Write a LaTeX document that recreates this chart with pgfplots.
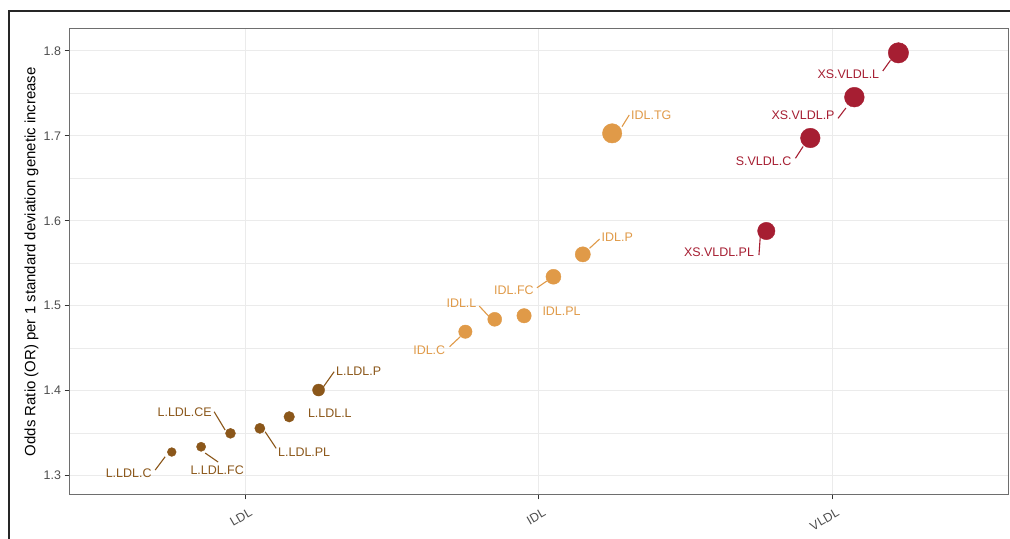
\documentclass[border=0pt]{standalone}
\usepackage{pgfplots}
\usepackage{pgfplotstable}
\pgfplotsset{compat=1.18}
\usepackage{fontspec}
\setmainfont{Liberation Sans}
\definecolor{ldl}{RGB}{139,87,26}
\definecolor{idl}{RGB}{224,154,72}
\definecolor{vldl}{RGB}{166,30,50}
\definecolor{gridc}{RGB}{235,235,235}
\definecolor{borderc}{RGB}{110,110,110}
\definecolor{tickc}{RGB}{51,51,51}
\definecolor{ticktext}{RGB}{77,77,77}

\pgfplotstableread{
x y r
0.75 1.3276 4.4
0.85 1.3338 4.6
0.95 1.3496 5.0
1.05 1.3555 5.1
1.15 1.3691 5.3
1.25 1.4006 6.0
}\ldldata
\pgfplotstableread{
x y r
1.75 1.4693 6.7
1.85 1.4839 7.0
1.95 1.4881 7.2
2.05 1.5340 7.5
2.15 1.5604 7.6
2.25 1.7029 9.7
}\idldata
\pgfplotstableread{
x y r
2.775 1.5879 8.7
2.925 1.6974 9.8
3.075 1.7455 9.9
3.225 1.7977 10.2
}\vldldata

\newcommand{\lab}{\fontsize{12.5}{15}\selectfont}

\begin{document}
\begin{tikzpicture}[x=1bp,y=1bp]
\useasboundingbox (0,0) rectangle (1010,539);
\clip (0,0) rectangle (1010,539);
\fill[white] (0,0) rectangle (1010,539);
\draw[line width=1.7bp, draw=black!85] (9.3,528.2) rectangle (1040,-30);
\begin{axis}[
  at={(69bp,44bp)}, anchor=south west, scale only axis,
  width=939.5bp, height=466.6bp,
  xmin=0.4, xmax=3.6, ymin=1.277, ymax=1.8265,
  xtick={1,2,3}, xticklabels={LDL,IDL,VLDL},
  ytick={1.3,1.4,1.5,1.6,1.7,1.8},
  minor ytick={1.35,1.45,1.55,1.65,1.75},
  xmajorgrids, ymajorgrids, yminorgrids,
  major grid style={draw=gridc, line width=1.1bp},
  minor grid style={draw=gridc, line width=0.6bp},
  axis line style={draw=borderc, line width=1bp},
  tick align=outside, xtick pos=bottom, ytick pos=left,
  major tick length=4.5bp, minor tick length=0bp,
  every tick/.style={draw=tickc, line width=1bp},
  ticklabel style={font=\lab, text=ticktext},
  /pgf/number format/assume math mode=true,
  yticklabel style={/pgf/number format/fixed, /pgf/number format/precision=1, /pgf/number format/fixed zerofill},
  xticklabel style={rotate=30, anchor=north east, inner sep=0pt, xshift=-1bp, yshift=-9bp},
  ylabel={Odds Ratio (OR) per 1 standard deviation genetic increase},
  ylabel style={font=\fontsize{15}{18}\selectfont, at={(axis description cs:-0.0399,0.5)}, anchor=center, text=black},
  clip=false,
]
\addplot[scatter, only marks, mark=*, point meta=explicit, scatter/use mapped color={draw=ldl, fill=ldl},
  visualization depends on={\thisrow{r}\as\rad},
  scatter/@pre marker code/.append style={/tikz/mark size=\rad bp}]
  table[x=x, y=y, meta=y] {\ldldata};
\addplot[scatter, only marks, mark=*, point meta=explicit, scatter/use mapped color={draw=idl, fill=idl},
  visualization depends on={\thisrow{r}\as\rad},
  scatter/@pre marker code/.append style={/tikz/mark size=\rad bp}]
  table[x=x, y=y, meta=y] {\idldata};
\addplot[scatter, only marks, mark=*, point meta=explicit, scatter/use mapped color={draw=vldl, fill=vldl},
  visualization depends on={\thisrow{r}\as\rad},
  scatter/@pre marker code/.append style={/tikz/mark size=\rad bp}]
  table[x=x, y=y, meta=y] {\vldldata};

% leader lines
\begin{scope}[line width=1.1bp]
\draw[ldl] (axis cs:0.6935,1.3064) -- (axis cs:0.7275,1.3220);
\draw[ldl] (axis cs:0.8638,1.3264) -- (axis cs:0.9080,1.3158);
\draw[ldl] (axis cs:0.8944,1.3750) -- (axis cs:0.9319,1.3535);
\draw[ldl] (axis cs:1.0681,1.3515) -- (axis cs:1.1056,1.3319);
\draw[ldl] (axis cs:1.2668,1.4045) -- (axis cs:1.3031,1.4222);
\draw[idl] (axis cs:1.6962,1.4516) -- (axis cs:1.7326,1.4634);
\draw[idl] (axis cs:1.7973,1.4995) -- (axis cs:1.8290,1.4877);
\draw[idl] (axis cs:1.9939,1.5211) -- (axis cs:2.0279,1.5290);
\draw[idl] (axis cs:2.1730,1.5675) -- (axis cs:2.2071,1.5784);
\draw[idl] (axis cs:2.2834,1.7107) -- (axis cs:2.3082,1.7245);
\draw[vldl] (axis cs:3.1717,1.7763) -- (axis cs:3.1979,1.7889);
\draw[vldl] (axis cs:3.0194,1.7206) -- (axis cs:3.0460,1.7327);
\draw[vldl] (axis cs:2.8743,1.6735) -- (axis cs:2.9003,1.6874);
\draw[vldl] (axis cs:2.7544,1.5812) -- (axis cs:2.7500,1.5596);
\end{scope}

% labels
\begin{scope}[every node/.style={font=\lab, inner sep=0pt, anchor=center}]
\node[text=ldl] at (axis cs:0.6032,1.3028) {L.LDL.C};
\node[text=ldl] at (axis cs:0.9046,1.3064) {L.LDL.FC};
\node[text=ldl] at (axis cs:0.7939,1.3747) {L.LDL.CE};
\node[text=ldl] at (axis cs:1.2010,1.3276) {L.LDL.PL};
\node[text=ldl] at (axis cs:1.2885,1.3735) {L.LDL.L};
\node[text=ldl] at (axis cs:1.3866,1.4232) {L.LDL.P};
\node[text=idl] at (axis cs:1.6270,1.4477) {IDL.C};
\node[text=idl] at (axis cs:1.7367,1.5031) {IDL.L};
\node[text=idl] at (axis cs:2.0777,1.4931) {IDL.PL};
\node[text=idl] at (axis cs:1.9155,1.5178) {IDL.FC};
\node[text=idl] at (axis cs:2.2674,1.5800) {IDL.P};
\node[text=idl] at (axis cs:2.3832,1.7245) {IDL.TG};
\node[text=vldl] at (axis cs:3.0545,1.7731) {XS.VLDL.L};
\node[text=vldl] at (axis cs:2.9002,1.7237) {XS.VLDL.P};
\node[text=vldl] at (axis cs:2.7657,1.6703) {S.VLDL.C};
\node[text=vldl] at (axis cs:2.6138,1.5625) {XS.VLDL.PL};
\end{scope}
\end{axis}
\end{tikzpicture}
\end{document}
